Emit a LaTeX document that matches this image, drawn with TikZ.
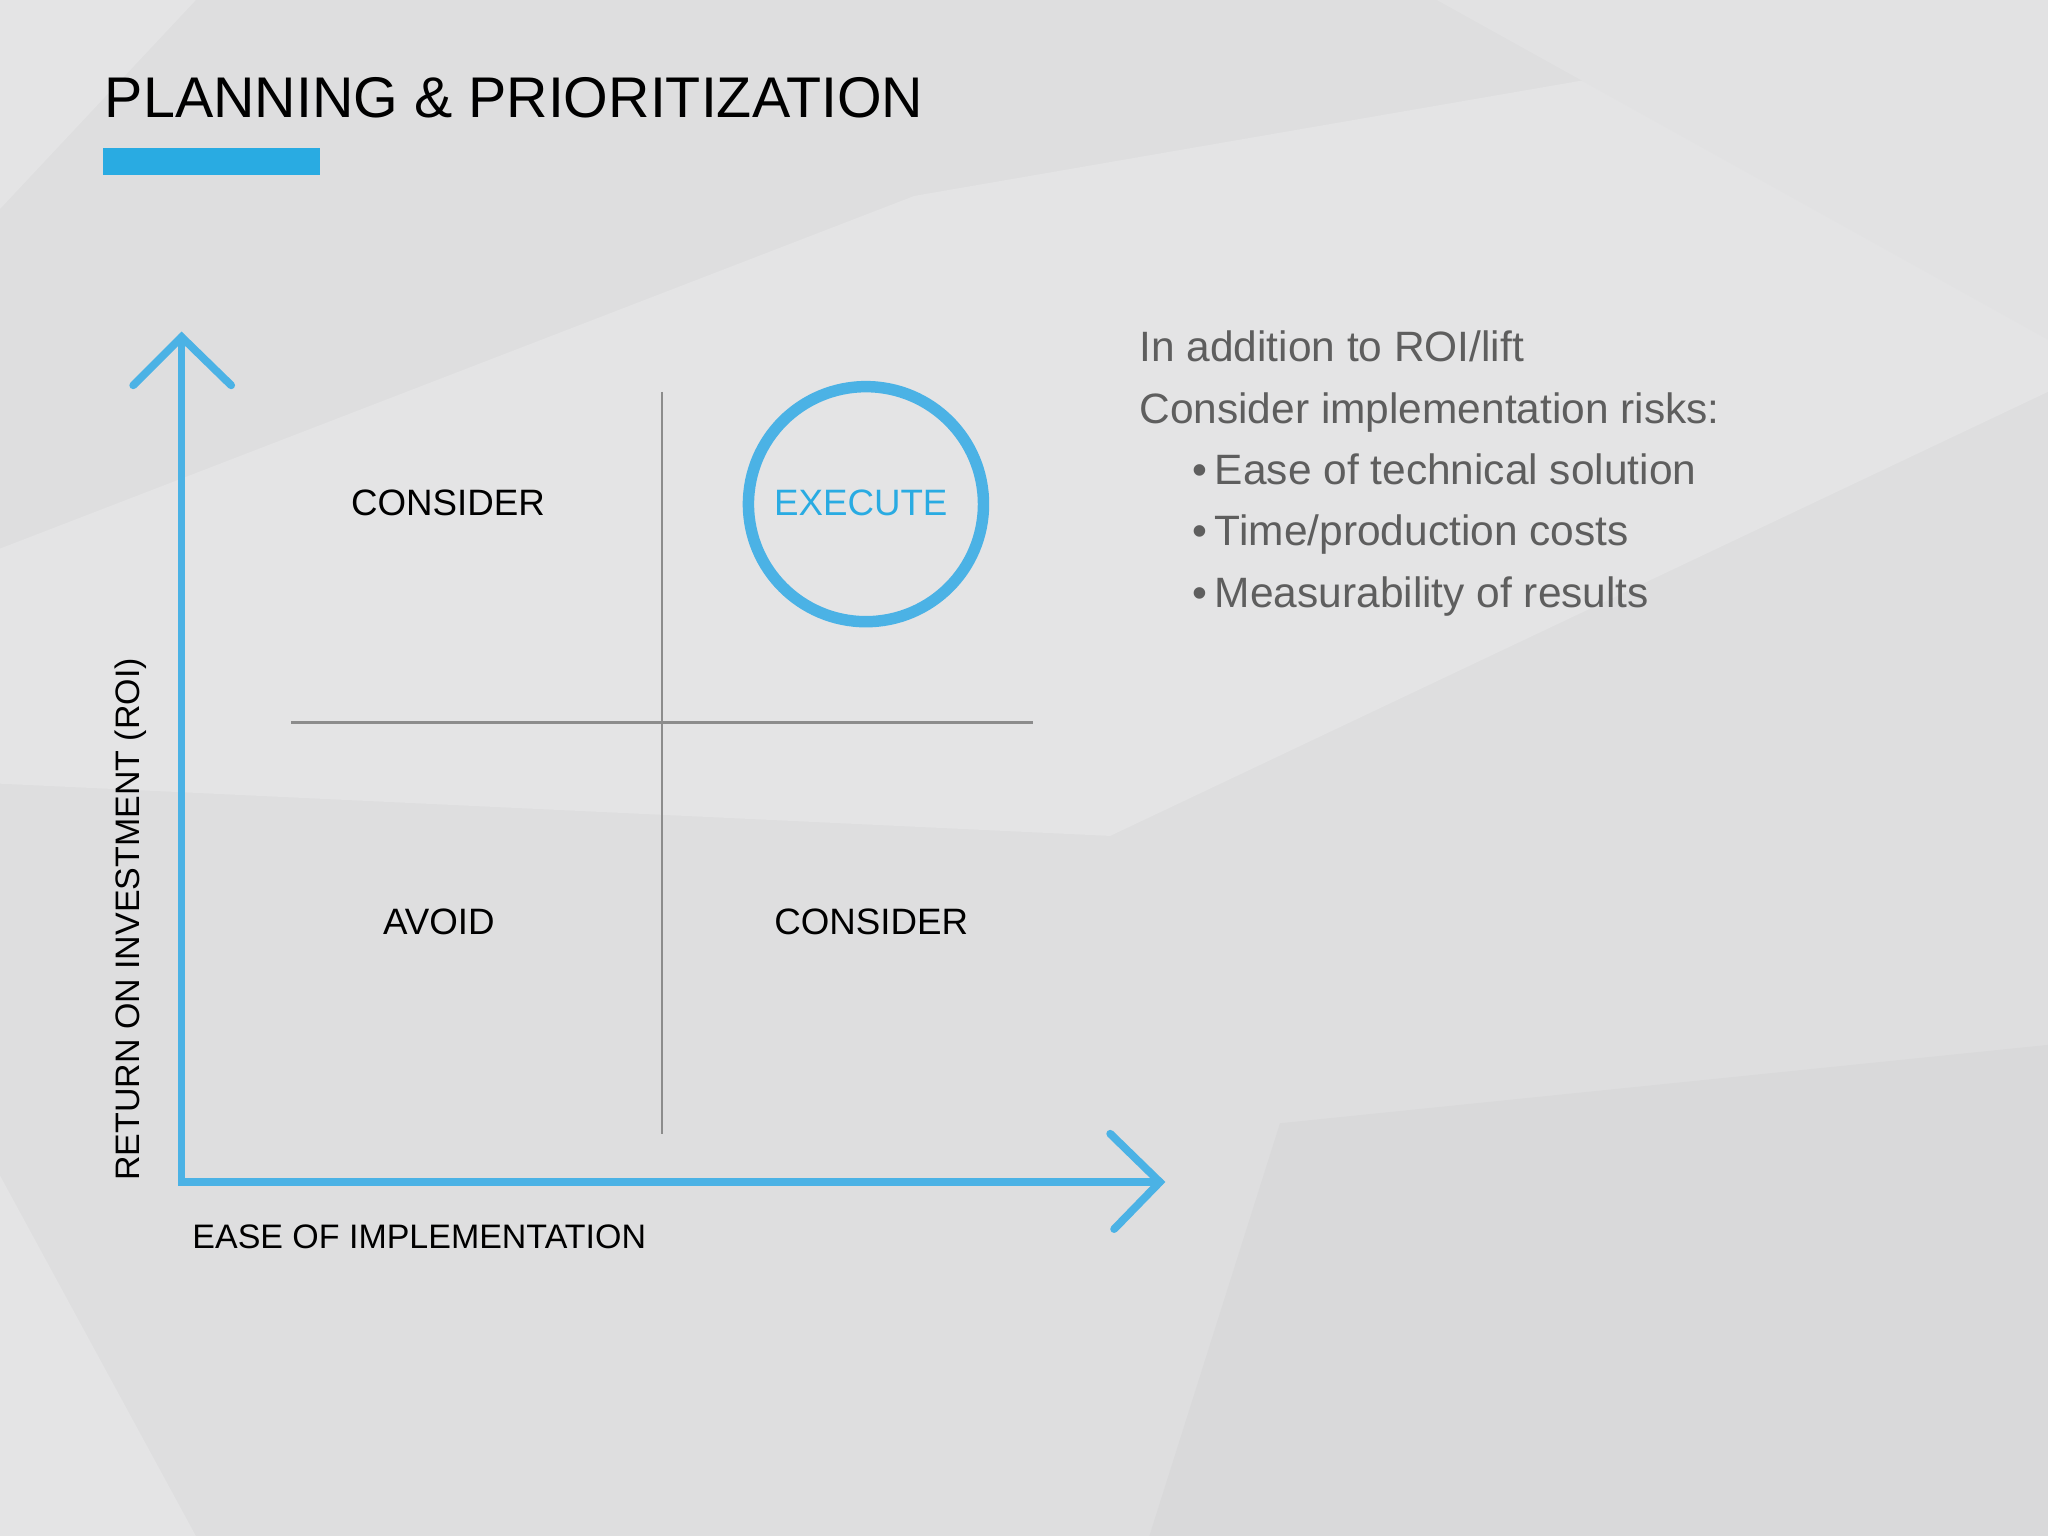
\documentclass[tikz,border=0pt]{standalone}
\usepackage{fontspec}
\setmainfont{Liberation Sans}
\definecolor{bg}{HTML}{DEDEDF}
\definecolor{bgl}{HTML}{E4E4E5}
\definecolor{bgd}{HTML}{D9D9DA}
\definecolor{accent}{HTML}{29ABE2}
\definecolor{axisblue}{HTML}{4BB2E5}
\definecolor{txtgray}{HTML}{5E5E5E}
\begin{document}
\begin{tikzpicture}[x=0.02cm,y=-0.02cm,
  axis/.style={axisblue,line width=3.4pt,line cap=round,line join=miter},
  grid/.style={draw=gray!90,line width=1.1pt},
  quad/.style={font=\fontsize{16}{19}\selectfont,text=black},
  side/.style={font=\fontsize{18.5}{22}\selectfont,text=txtgray,anchor=base west,inner sep=0},
  axlabel/.style={font=\fontsize{14.8}{17}\selectfont,text=black,inner sep=0}]
\fill[bg] (0,0) rectangle (1568,1176);
\useasboundingbox (0,0) rectangle (1568,1176);
\fill[bgl] (0,0) -- (150,0) -- (0,160) -- cycle;
\fill[bgl] (0,420) -- (700,150) -- (1568,0) -- (1568,300) -- (850,640) -- (0,600) -- cycle;
\fill[bgd] (980,860) -- (1568,800) -- (1568,1176) -- (880,1176) -- cycle;
\fill[bgl] (0,900) -- (150,1176) -- (0,1176) -- cycle;
\fill[bgl!60!bg] (1100,0) -- (1568,0) -- (1568,260) -- cycle;
% title
\node[anchor=base west,inner sep=0,font=\fontsize{25}{30}\selectfont] (title) at (80,90) {PLANNING \& PRIORITIZATION};
\fill[accent] (79,113) rectangle (245,134);
% grid
\coordinate (vt) at (507,300); \coordinate (vb) at (507,868);
\coordinate (hl) at (223,553); \coordinate (hr) at (791,553);
\draw[grid] (vt) -- (vb);
\draw[grid] (hl) -- (hr);
% axes
\coordinate (o) at (139,905); \coordinate (yt) at (139,258); \coordinate (xr) at (888,905);
\draw[axis] (yt) -- (o) -- (xr);
\draw[axis] (102,295) -- (yt) -- (177,295);
\draw[axis] (850,868) -- (xr) -- (853,941);
% circle
\node[circle,draw=axisblue,line width=5pt,minimum size=3.6cm] (exec) at (663,386) {};
\node[quad,text=accent] (execute) at (659,385) {EXECUTE};
\node[quad] (c1) at (343,385) {CONSIDER};
\node[quad] (avoid) at (336,706) {AVOID};
\node[quad] (c2) at (667,706) {CONSIDER};
\node[axlabel,rotate=90] (ylab) at (100,704) {RETURN ON INVESTMENT (ROI)};
\node[axlabel,anchor=west] (xlab) at (147,947) {EASE OF IMPLEMENTATION};
% side text
\node[side] (s1) at (872,277) {In addition to ROI/lift};
\node[side] (s2) at (872,324) {Consider implementation risks:};
\node[side] (b1) at (913,371) {•\,Ease of technical solution};
\node[side] (b2) at (913,418) {•\,Time/production costs};
\node[side] (b3) at (913,465) {•\,Measurability of results};
\end{tikzpicture}
\end{document}
